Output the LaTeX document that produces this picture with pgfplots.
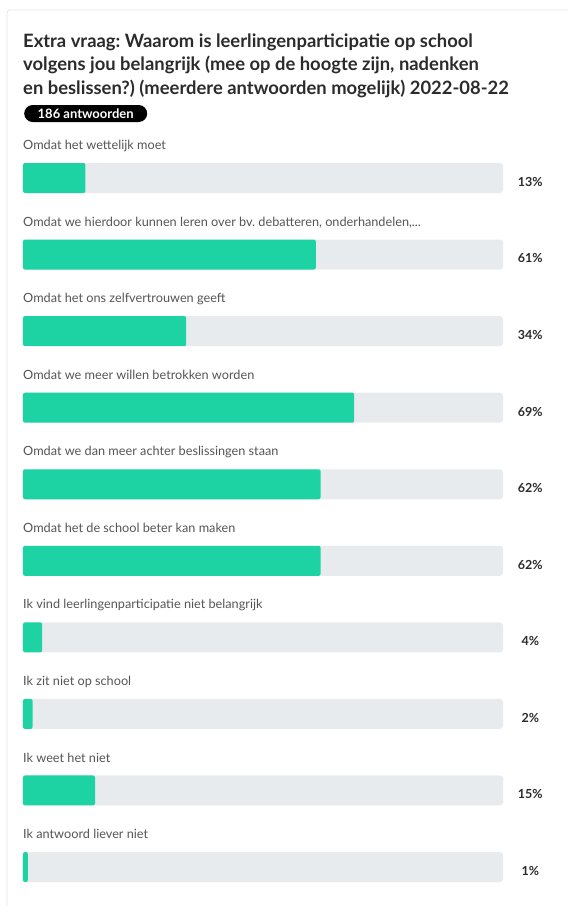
\documentclass[border=0pt]{standalone}
\usepackage{pgfplots}
\usepackage{pgfplotstable}
\pgfplotsset{compat=1.18}
\usepackage{fontspec}
\setmainfont{Lato}
\frenchspacing

\definecolor{fillgreen}{HTML}{1ED3A3}
\definecolor{track}{HTML}{E8EBEE}
\definecolor{titletext}{HTML}{2B2B2B}
\definecolor{labeltext}{HTML}{555555}
\definecolor{cardline}{HTML}{E2E2E2}

% one row per answer, pct = share of respondents
\pgfplotstableread[col sep=semicolon]{
idx;pct;full;label
0;13;100;Omdat het wettelijk moet
1;61;100;Omdat we hierdoor kunnen leren over bv. debatteren, onderhandelen,...
2;34;100;Omdat het ons zelfvertrouwen geeft
3;69;100;Omdat we meer willen betrokken worden
4;62;100;Omdat we dan meer achter beslissingen staan
5;62;100;Omdat het de school beter kan maken
6;4;100;Ik vind leerlingenparticipatie niet belangrijk
7;2;100;Ik zit niet op school
8;15;100;Ik weet het niet
9;1;100;Ik antwoord liever niet
}\answers

\begin{document}
\begin{tikzpicture}[x=1pt,y=1pt]
  \path[use as bounding box] (0,0) rectangle (568,-906);
  \draw[cardline, line width=0.8pt, rounded corners=3pt] (7,-912) -- (7,-10) -- (575,-10);

  % title, one node per line
  \begin{scope}[every node/.style={anchor=base west, inner sep=0pt, text=titletext,
      font=\bfseries\fontsize{18.4}{22}\selectfont}]
    \node at (23,-47) {Extra vraag: Waarom is leerlingenparticipatie op school};
    \node at (23,-70.5) {volgens jou belangrijk (mee op de hoogte zijn, nadenken};
    \node at (23,-94) {en beslissen?) (meerdere antwoorden mogelijk) 2022-08-22};
  \end{scope}

  \node[anchor=west, fill=black, text=white, rounded corners=8.5pt, inner sep=0pt,
    minimum height=17pt, minimum width=123pt,
    font=\bfseries\fontsize{13}{14}\selectfont] at (24,-113.5) {186 antwoorden};

  \begin{axis}[
    at={(23pt,0pt)}, anchor=north west,
    scale only axis, width=480pt, height=906pt,
    xmin=0, xmax=100,
    ymin=-2.325, ymax=9.509,
    y dir=reverse,
    hide axis,
    clip=false,
  ]
    % grey track
    \addplot[xbar, bar shift=0pt, bar width=30pt, fill=track, draw=none, rounded corners=3pt]
      table[x=full, y=idx] {\answers};
    % green share
    \addplot[xbar, bar shift=0pt, bar width=30pt, fill=fillgreen, draw=none, rounded corners=2pt]
      table[x=pct, y=idx] {\answers};
    % answer texts above the bars
    \addplot[draw=none, mark=none, nodes near coords, point meta=explicit symbolic,
      nodes near coords style={anchor=base west, inner sep=0pt, text=labeltext,
        font=\fontsize{12.7}{14}\selectfont}]
      table[x expr=0, y expr=\thisrow{idx}-0.372, meta=label] {\answers};
    % percentages at the right
    \addplot[draw=none, mark=none, nodes near coords={\pgfplotspointmeta\%},
      point meta=explicit symbolic,
      nodes near coords style={anchor=center, inner sep=0pt, text=titletext,
        font=\bfseries\fontsize{12.5}{14}\selectfont}]
      table[x expr=105.7, y expr=\thisrow{idx}+0.05, meta=pct] {\answers};
  \end{axis}
\end{tikzpicture}
\end{document}
